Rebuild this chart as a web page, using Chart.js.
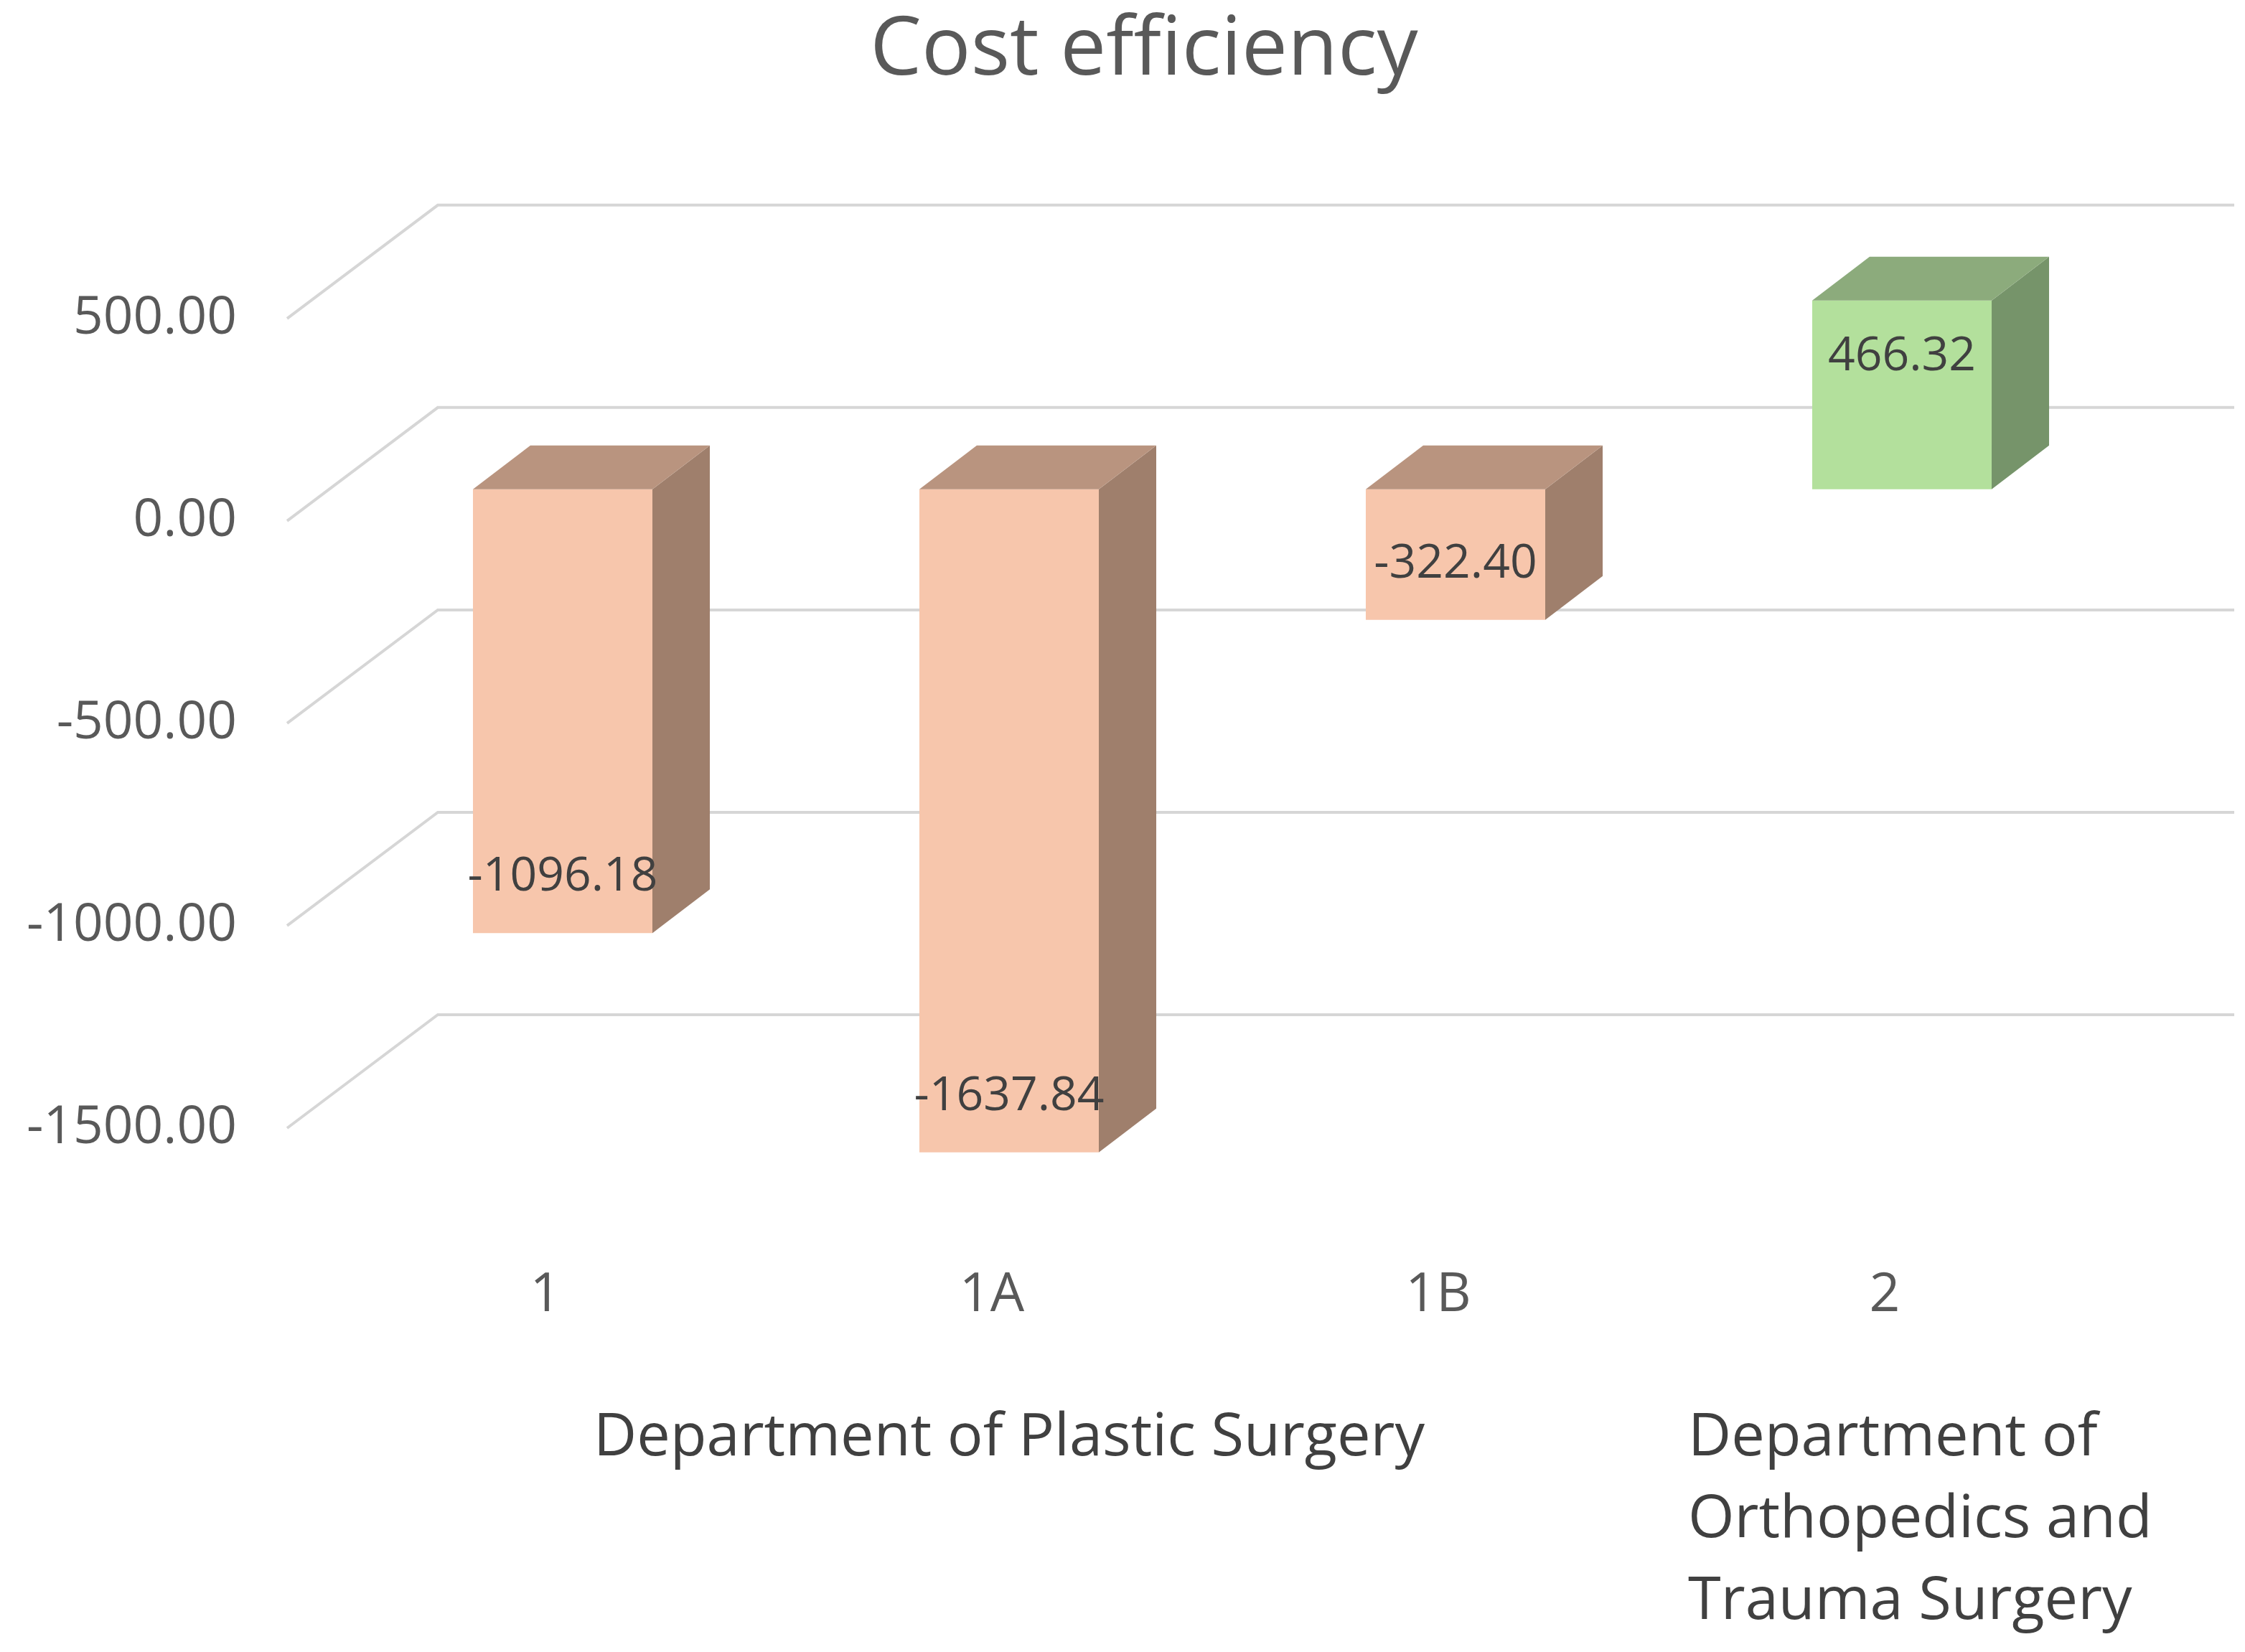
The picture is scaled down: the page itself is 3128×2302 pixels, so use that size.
<!DOCTYPE html>
<html lang="en">
<head>
<meta charset="UTF-8">
<title>Cost efficiency</title>
<script src="https://cdn.jsdelivr.net/npm/chart.js@4.4.1/dist/chart.umd.min.js"></script>
<style>
  html, body { margin: 0; padding: 0; background: #fff; }
  #wrap { width: 3128px; height: 2302px; position: relative; }
</style>
</head>
<body>
<div id="wrap"><canvas id="cost"></canvas></div>
<script>
var categories = ['1', '1A', '1B', '2'];
var costEfficiency = [-1096.18, -1637.84, -322.40, 466.32];
var yTickValues = [-1500, -1000, -500, 0, 500];
var groupLabels = [['Department of Plastic Surgery'], ['Department of', 'Orthopedics and', 'Trauma Surgery']];
var groupFirst = [0, 3];
var groupLast = [2, 3];

// fake 3d offsets
var DX = 80, DY = -61;              // depth of a bar
var BACK_DX = 152, BACK_DY = -114;  // back wall
var FRONT_DX = -58, FRONT_DY = 44;  // front edge of the floor

var colNeg = { front: '#f7c6ac', top: '#b9947f', side: '#9f7f6c' };
var colPos = { front: '#b3e09c', top: '#8cab7c', side: '#76946a' };

function poly(ctx, pts) {
    ctx.beginPath();
    ctx.moveTo(pts[0][0], pts[0][1]);
    for (var i = 1; i < pts.length; i++) ctx.lineTo(pts[i][0], pts[i][1]);
    ctx.closePath();
    ctx.fill();
}

var cube3d = {
    id: 'cube3d',
    beforeDatasetsDraw: function(chart) {
        var ctx = chart.ctx, a = chart.chartArea, ys = chart.scales.y;
        var wallX = a.left - 15;
        ctx.save();
        ctx.strokeStyle = '#d6d6d6';
        ctx.lineWidth = 4;
        ys.ticks.forEach(function(t) {
            var py = ys.getPixelForValue(t.value);
            ctx.beginPath();
            ctx.moveTo(wallX + FRONT_DX, py + FRONT_DY);
            ctx.lineTo(wallX + BACK_DX, py + BACK_DY);
            ctx.lineTo(a.right + BACK_DX, py + BACK_DY);
            ctx.stroke();
        });
        ctx.restore();
    },
    afterDatasetsDraw: function(chart) {
        var ctx = chart.ctx;
        var meta = chart.getDatasetMeta(0);
        var xs = chart.scales.x;
        ctx.save();
        meta.data.forEach(function(bar, i) {
            var p = bar.getProps(['x', 'y', 'base', 'width'], true);
            var l = p.x - p.width / 2, r = p.x + p.width / 2;
            var top = Math.min(p.y, p.base), bot = Math.max(p.y, p.base);
            var c = costEfficiency[i] < 0 ? colNeg : colPos;
            ctx.fillStyle = c.side;
            poly(ctx, [[r, top], [r + DX, top + DY], [r + DX, bot + DY], [r, bot]]);
            ctx.fillStyle = c.top;
            poly(ctx, [[l, top], [l + DX, top + DY], [r + DX, top + DY], [r, top]]);
        });

        // value labels, inside end
        ctx.font = '66px "Open Sans"';
        ctx.fillStyle = '#404040';
        ctx.textAlign = 'center';
        ctx.textBaseline = 'middle';
        meta.data.forEach(function(bar, i) {
            var v = costEfficiency[i];
            var ly = v < 0 ? bar.y - 78 : bar.y + 78;
            ctx.fillText(v.toFixed(2), bar.x, ly);
        });

        // department labels under the categories
        var half = (xs.getPixelForValue(1) - xs.getPixelForValue(0)) / 2;
        ctx.font = '83px "Open Sans"';
        ctx.fillStyle = '#404040';
        groupLabels.forEach(function(lines, g) {
            var start = xs.getPixelForValue(groupFirst[g]) - half;
            var end = xs.getPixelForValue(groupLast[g]) + half;
            lines.forEach(function(txt, k) {
                var ty = 2004 + k * 114;
                if (lines.length > 1) {
                    ctx.textAlign = 'left';
                    ctx.fillText(txt, start + 13, ty);
                } else {
                    ctx.textAlign = 'center';
                    ctx.fillText(txt, (start + end) / 2, ty);
                }
            });
        });
        ctx.restore();
    }
};

Chart.defaults.font.family = '"Open Sans"';
Chart.defaults.color = '#595959';

var ctx = document.getElementById('cost').getContext('2d');
var chart = new Chart(ctx, {
    type: 'bar',
    data: {
        labels: categories,
        datasets: [{
            label: 'Cost efficiency',
            data: costEfficiency,
            backgroundColor: costEfficiency.map(function(v) { return v < 0 ? colNeg.front : colPos.front; }),
            borderWidth: 0,
            categoryPercentage: 1,
            barPercentage: 0.402,
            clip: false
        }]
    },
    options: {
        responsive: true,
        maintainAspectRatio: false,
        animation: false,
        // negative right padding moves the title centre to the right a bit
        layout: { padding: { left: 0, right: -60, top: 0, bottom: 0 } },
        plugins: {
            legend: { display: false },
            tooltip: { enabled: false },
            title: {
                display: true,
                text: 'Cost efficiency',
                color: '#595959',
                font: { size: 114, weight: 'normal', lineHeight: 1.2 },
                padding: { top: 3, bottom: 260 }
            }
        },
        scales: {
            x: {
                grid: { display: false, drawTicks: false },
                border: { display: false },
                ticks: { font: { size: 75 }, color: '#595959', padding: 233, labelOffset: -24, maxRotation: 0 },
                afterFit: function(s) { s.height = 774; }
            },
            y: {
                min: -1500,
                max: 500,
                grid: { display: false, drawTicks: false },
                border: { display: false },
                afterBuildTicks: function(s) {
                    s.ticks = yTickValues.map(function(v) { return { value: v }; });
                },
                ticks: {
                    font: { size: 73 },
                    color: '#595959',
                    padding: 143,
                    labelOffset: 44,
                    callback: function(v) { return Number(v).toFixed(2); }
                },
                afterFit: function(s) { s.width = 473; }
            },
            // empty strip on the right, keeps room for the back wall
            yRight: {
                position: 'right',
                grid: { display: false, drawTicks: false },
                border: { display: false },
                ticks: { display: false },
                afterFit: function(s) { s.width = 227; }
            }
        }
    },
    plugins: [cube3d]
});
</script>
</body>
</html>
